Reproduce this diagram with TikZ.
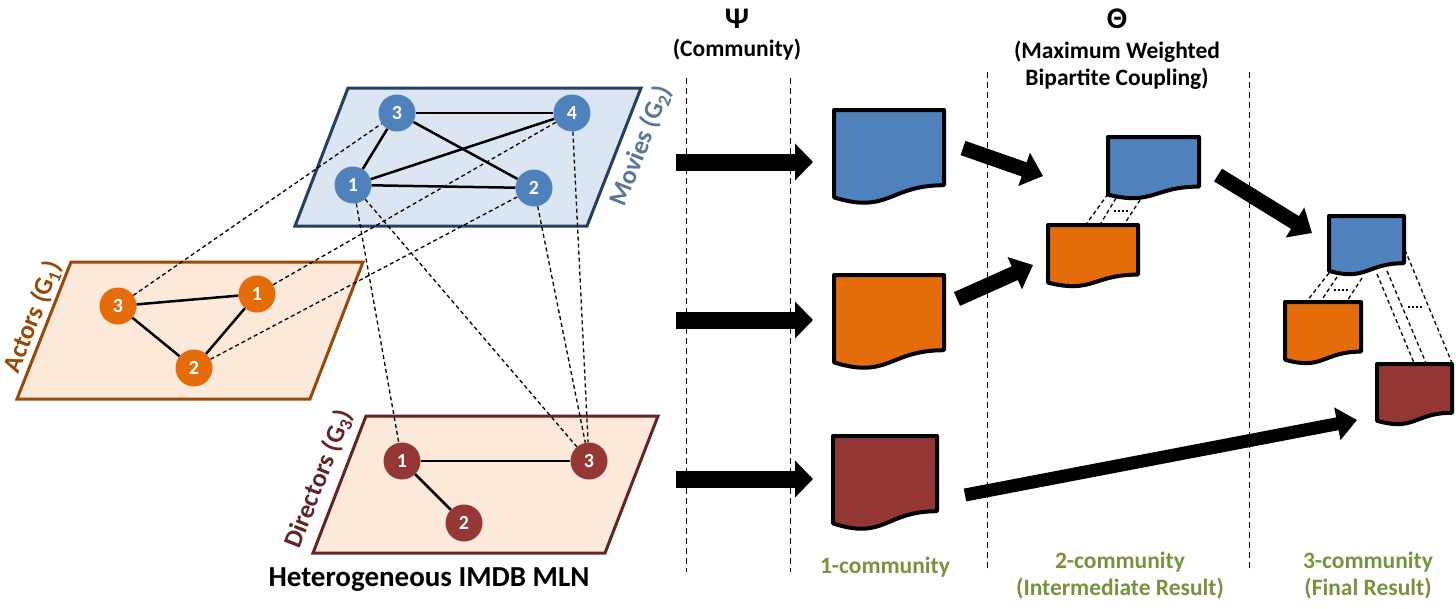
\documentclass[tikz,border=0pt]{standalone}
\usepackage{fontspec}
\setmainfont{Carlito}
\usetikzlibrary{arrows.meta}

\definecolor{movieblue}{HTML}{4F81BD}
\definecolor{moviefill}{HTML}{DCE6F2}
\definecolor{movieedge}{HTML}{243F60}
\definecolor{movietext}{HTML}{5B7595}
\definecolor{actororange}{HTML}{E46C0A}
\definecolor{actoredge}{HTML}{984807}
\definecolor{planefill}{HTML}{FDE9D9}
\definecolor{dirred}{HTML}{953735}
\definecolor{diredge}{HTML}{632523}
\definecolor{resgreen}{HTML}{77933C}

\tikzset{
  plane/.style={line width=3pt, line join=miter}, % layer plane
  vertex/.style={circle, minimum size=37pt, inner sep=0pt, text=white,
    font=\fontsize{20}{20}\selectfont\bfseries}, % graph vertex
  link/.style={draw, line width=2.5pt}, % edge inside a layer
  cross/.style={draw, line width=1.3pt, dash pattern=on 4pt off 3pt}, % edge across layers
  sep/.style={draw, line width=1pt, dash pattern=on 6pt off 4pt}, % column separator
  doc/.style={draw, line width=4pt, line join=round}, % community document
  planelabel/.style={rotate=68.5, font=\fontsize{26}{26}\selectfont\bfseries},
  head/.style={font=\fontsize{23.5}{27}\selectfont\bfseries},
  greek/.style={font=\fontsize{30}{30}\selectfont\bfseries},
  result/.style={text=resgreen, font=\fontsize{23.5}{27}\selectfont\bfseries},
  bigarrow/.style={line width=17pt, -{Triangle[length=18pt,width=36pt]}},
  slantarrow/.style={line width=15pt, -{Triangle[length=20pt,width=34pt]}}
}

\newcommand{\docshape}[6]{% name, x, y, width, height, colour
  \begin{scope}[shift={(#2,#3)}, xscale=#4, yscale=#5]
    \draw[doc, fill=#6] (0,0) -- (1,0) -- (1,0.8)
      .. controls (0.5,0.8) and (0.5,1.11) .. (0,0.93) -- cycle;
    \coordinate (#1) at (0.5,0.45);
  \end{scope}}

\begin{document}
\begin{tikzpicture}[x=1pt, y=-1pt]
  \useasboundingbox (0,0) rectangle (1456,608);

  % layers
  \draw[plane, draw=movieedge, fill=moviefill]
    (348,88) -- (641,88) -- (587,226) -- (295,226) -- cycle;
  \draw[plane, draw=actoredge, fill=planefill]
    (71,262) -- (363,262) -- (310,399) -- (17,399) -- cycle;
  \draw[plane, draw=diredge, fill=planefill]
    (366,416) -- (658,416) -- (605,553) -- (313,553) -- cycle;

  \node[planelabel, text=movietext] (mlabel) at (641,146) {Movies (G\textsubscript{2})};
  \node[planelabel, text=actoredge] (alabel) at (33,317) {Actors (G\textsubscript{1})};
  \node[planelabel, text=diredge] (dlabel) at (319,479) {Directors (G\textsubscript{3})};

  % vertices
  \foreach \n/\x/\y in {3/397/113, 4/572/113, 1/353/185, 2/534/188}
    \node[vertex, fill=movieblue] (m\n) at (\x,\y) {\n};
  \foreach \n/\x/\y in {3/118/306, 1/257/294, 2/194/368}
    \node[vertex, fill=actororange] (a\n) at (\x,\y) {\n};
  \foreach \n/\x/\y in {1/402/461, 3/589/461, 2/464/523}
    \node[vertex, fill=dirred] (d\n) at (\x,\y) {\n};

  % edges
  \foreach \u/\v in {m3/m4, m3/m1, m3/m2, m1/m4, m1/m2, a3/a1, a3/a2, a1/a2, d1/d3, d1/d2}
    \draw[link] (\u) -- (\v);
  \foreach \u/\v in {a3/m3, a1/m4, a2/m2, m1/d1, m1/d3, m2/d3, m4/d3}
    \draw[cross] (\u) -- (\v);

  \node[font=\fontsize{29}{29}\selectfont\bfseries] (mln) at (429,580) {Heterogeneous IMDB MLN};

  % columns
  \foreach \x/\y in {686/78, 790/78, 987/72, 1249/72}
    \draw[sep] (\x,\y) -- (\x,572);
  \node[greek] (psi) at (737,19) {Ψ};
  \node[head] (psitext) at (737,50) {(Community)};
  \node[greek] (theta) at (1117,19) {Θ};
  \node[head, align=center] (thetatext) at (1117,65) {(Maximum Weighted\\Bipartite Coupling)};

  % communities
  \docshape{blue1}{834}{110}{110}{94}{movieblue}
  \docshape{orange1}{834}{275}{110}{94}{actororange}
  \docshape{red1}{833}{436}{104}{94}{dirred}
  \docshape{blue2}{1108}{137}{91}{62}{movieblue}
  \docshape{orange2}{1048}{225}{90}{62}{actororange}
  \docshape{blue3}{1329}{216}{75}{59}{movieblue}
  \docshape{orange3}{1285}{302}{76}{62}{actororange}
  \docshape{red3}{1377}{364}{75}{61}{dirred}

  \node[result] (res1) at (885,567) {1-community};
  \node[result, align=center] (res2) at (1120,576) {2-community\\(Intermediate Result)};
  \node[result, align=center] (res3) at (1368,576) {3-community\\(Final Result)};

  % couplings
  \coordinate (b2a) at (1108,194); \coordinate (o2a) at (1087,223);
  \coordinate (b2b) at (1116,198); \coordinate (o2b) at (1101,223);
  \coordinate (b2c) at (1140,200); \coordinate (o2c) at (1125,223);
  \foreach \p in {a,b,c}
    \draw[cross] (b2\p) -- (o2\p);
  \draw[line width=1.6pt, dash pattern=on 2pt off 2pt] (1114,211) -- (1128,211);

  \coordinate (b3a) at (1329,273); \coordinate (o3a) at (1307,301);
  \coordinate (b3b) at (1337,277); \coordinate (o3b) at (1321,301);
  \coordinate (b3c) at (1362,278); \coordinate (o3c) at (1347,301);
  \coordinate (b3d) at (1377,274); \coordinate (r3d) at (1414,363);
  \coordinate (b3e) at (1387,271); \coordinate (r3e) at (1426,363);
  \coordinate (b3f) at (1405,250); \coordinate (r3f) at (1452,363);
  \foreach \p in {a,b,c}
    \draw[cross] (b3\p) -- (o3\p);
  \foreach \p in {d,e,f}
    \draw[cross] (b3\p) -- (r3\p);
  \draw[line width=1.6pt, dash pattern=on 2pt off 2pt] (1334,290) -- (1350,290);
  \draw[line width=1.6pt, dash pattern=on 2pt off 2pt] (1408,307) -- (1424,307);

  % arrows
  \foreach \y/\n in {162/1, 320/2, 479/3} {
    \coordinate (in\n) at (676,\y);
    \coordinate (out\n) at (813,\y);
    \draw[bigarrow] (in\n) -- (out\n);
  }
  \coordinate (t1) at (963,148);  \coordinate (h1) at (1043,176);
  \coordinate (t2) at (957,299);  \coordinate (h2) at (1033,265);
  \coordinate (t3) at (1218,175); \coordinate (h3) at (1312,233);
  \coordinate (t4) at (965,495);  \coordinate (h4) at (1357,420);
  \draw[slantarrow] (t1) -- (h1);
  \draw[slantarrow] (t2) -- (h2);
  \draw[slantarrow] (t3) -- (h3);
  \draw[line width=13pt, -{Triangle[length=20pt,width=32pt]}] (t4) -- (h4);
\end{tikzpicture}
\end{document}
